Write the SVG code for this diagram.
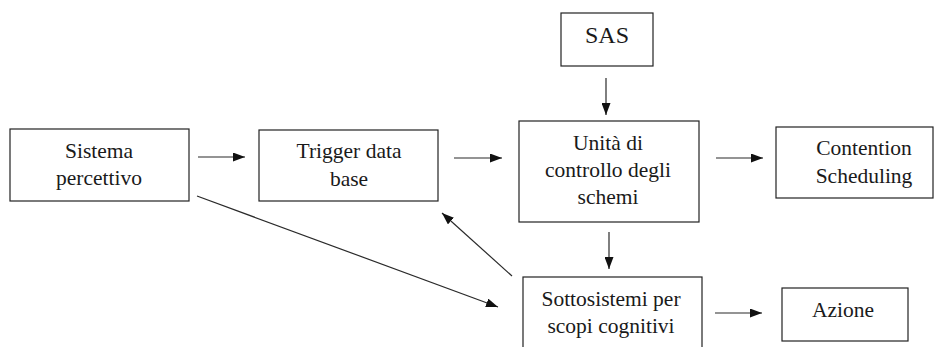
<svg xmlns="http://www.w3.org/2000/svg" width="942" height="347" viewBox="0 0 942 347">
  <style>
    .box { fill: #ffffff; stroke: #222222; stroke-width: 1.2; }
    .lbl { font-size: 21.5px; fill: #1a1a1a; text-anchor: middle; }
    .big { font-size: 24px; }
    .edge { fill: none; stroke: #2a2a2a; stroke-width: 1.2; marker-end: url(#head); }
  </style>
  <defs>
    <marker id="head" viewBox="0 0 12 9" refX="12" refY="4.5" markerWidth="12" markerHeight="9" markerUnits="userSpaceOnUse" orient="auto">
      <path d="M0,0 L12,4.5 L0,9 Z" fill="#111111"/>
    </marker>
  </defs>
  <rect width="942" height="347" fill="#ffffff"/>

  <g font-family="'Liberation Serif', 'DejaVu Serif', 'Times New Roman', serif">
    <g id="sistema-percettivo">
      <rect class="box" x="10" y="129" width="179" height="72"/>
      <text class="lbl" x="99" y="157.5">Sistema</text>
      <text class="lbl" x="99" y="185">percettivo</text>
    </g>

    <g id="trigger-data-base">
      <rect class="box" x="259" y="130" width="179" height="71"/>
      <text class="lbl" x="349" y="158">Trigger data</text>
      <text class="lbl" x="349" y="186">base</text>
    </g>

    <g id="sas">
      <rect class="box" x="561" y="13" width="92" height="53"/>
      <text class="lbl big" x="607" y="43">SAS</text>
    </g>

    <g id="unita-controllo">
      <rect class="box" x="519" y="121" width="180" height="101"/>
      <text class="lbl" x="608" y="150">Unità di</text>
      <text class="lbl" x="608" y="176.5">controllo degli</text>
      <text class="lbl" x="608" y="204">schemi</text>
    </g>

    <g id="contention-scheduling">
      <rect class="box" x="776" y="127" width="157" height="71"/>
      <text class="lbl" x="864" y="155">Contention</text>
      <text class="lbl" x="864" y="183">Scheduling</text>
    </g>

    <g id="sottosistemi">
      <rect class="box" x="523" y="277" width="179" height="80"/>
      <text class="lbl" x="611" y="306">Sottosistemi per</text>
      <text class="lbl" x="611" y="333">scopi cognitivi</text>
    </g>

    <g id="azione">
      <rect class="box" x="782" y="288" width="126" height="53"/>
      <text class="lbl" x="843" y="317">Azione</text>
    </g>
  </g>

  <g id="connectors">
    <line class="edge" x1="198" y1="157" x2="245" y2="157"/>
    <line class="edge" x1="454" y1="158" x2="502" y2="158"/>
    <line class="edge" x1="716" y1="158" x2="763" y2="158"/>
    <line class="edge" x1="606" y1="78" x2="606" y2="115"/>
    <line class="edge" x1="609" y1="232" x2="609" y2="269"/>
    <line class="edge" x1="715" y1="313" x2="762" y2="313"/>
    <line class="edge" x1="197" y1="196" x2="498" y2="307"/>
    <line class="edge" x1="512" y1="276" x2="442" y2="213"/>
  </g>
</svg>
